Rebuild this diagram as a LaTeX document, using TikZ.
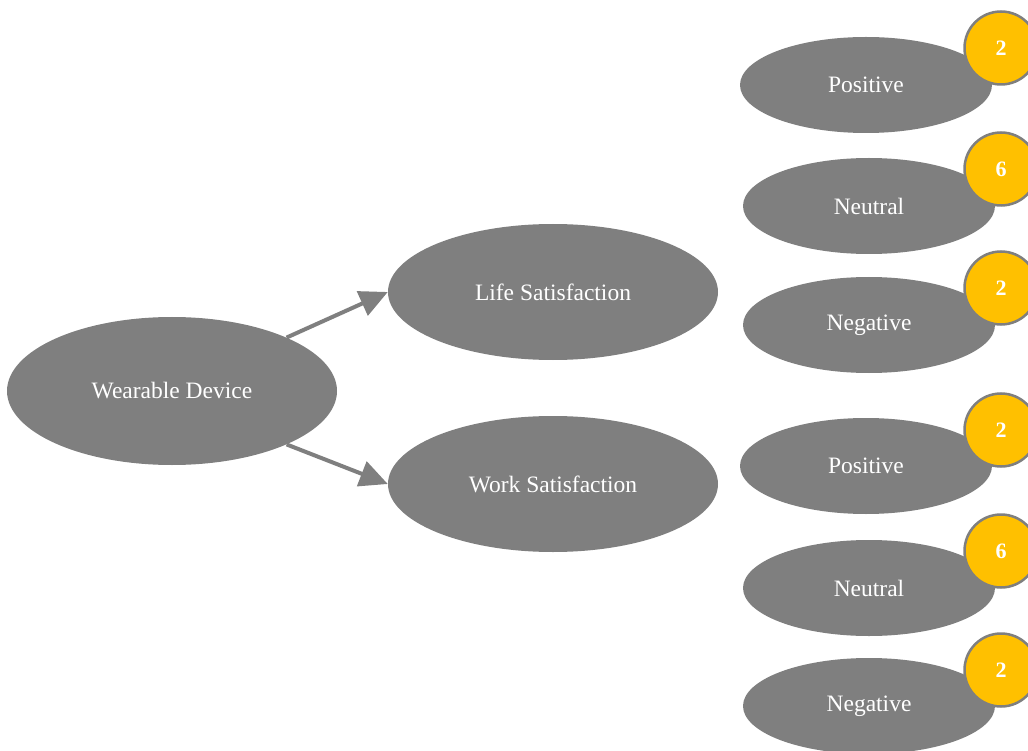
\documentclass[tikz,border=0pt]{standalone}
\usepackage{fontspec}
\setmainfont{Liberation Serif}
\usetikzlibrary{shapes.geometric,arrows.meta}
\definecolor{oval}{HTML}{7F7F7F}
\definecolor{badge}{HTML}{FFC000}
\tikzset{
  ovaltext/.style={text=white,font=\fontsize{23.5}{27}\selectfont},
  bigoval/.style={ellipse,fill=oval,ovaltext,inner sep=0pt,
    minimum width=330pt,minimum height=148pt},
  midoval/.style={ellipse,fill=oval,ovaltext,inner sep=0pt,
    minimum width=330pt,minimum height=136pt},
  smalloval/.style={ellipse,fill=oval,ovaltext,inner sep=0pt,
    minimum width=252pt,minimum height=96pt},
  countbadge/.style={circle,fill=badge,draw=oval,line width=2.5pt,text=white,
    inner sep=0pt,minimum size=73pt,font=\fontsize{22}{25}\selectfont\bfseries},
  link/.style={draw=oval,line width=4pt,
    -{Triangle[length=28pt,width=26pt]}}
}
\begin{document}
\begin{tikzpicture}[x=1pt,y=-1pt]
  \useasboundingbox (0,0) rectangle (1028,751);
  \clip (0,0) rectangle (1028,751);

  % root and the two outcome areas
  \node[bigoval] (wd) at (172,391) {Wearable Device};
  \node[midoval] (life) at (553,292) {Life Satisfaction};
  \node[midoval] (work) at (553,484) {Work Satisfaction};

  \draw[link] (wd.25) -- (life.west);
  \draw[link] (wd.-25) -- (work.west);

  % sentiment groups with their counts
  \node[smalloval] (lpos) at (866,85) {Positive};
  \node[smalloval] (lneu) at (869,206) {Neutral};
  \node[smalloval] (lneg) at (869,325) {Negative};
  \node[smalloval] (wpos) at (866,466) {Positive};
  \node[smalloval] (wneu) at (869,588) {Neutral};
  \node[smalloval] (wneg) at (869,706) {Negative};

  \node[countbadge] (clpos) at (1001,48) {2};
  \node[countbadge] (clneu) at (1001,169) {6};
  \node[countbadge] (clneg) at (1001,288) {2};
  \node[countbadge] (cwpos) at (1001,430) {2};
  \node[countbadge] (cwneu) at (1001,551) {6};
  \node[countbadge] (cwneg) at (1001,670) {2};
\end{tikzpicture}
\end{document}
